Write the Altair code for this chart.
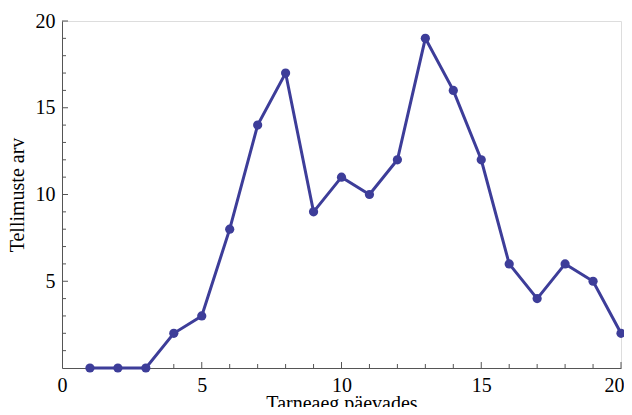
import altair as alt
import pandas as pd

days = list(range(1, 21))
orders = [0, 0, 0, 2, 3, 8, 14, 17, 9, 11, 10, 12, 19, 16, 12, 6, 4, 6, 5, 2]

x_labels = [0, 5, 10, 15, 20]
y_labels = [5, 10, 15, 20]
major_ticks = [5, 10, 15, 20]
minor_ticks = [1, 2, 3, 4, 6, 7, 8, 9, 11, 12, 13, 14, 16, 17, 18, 19]

W, H = 559, 347
COLOR = "#3d3d99"
AX = "#555555"
FONT = "Liberation Serif"

df = pd.DataFrame({"day": days, "orders": orders})
maj = pd.DataFrame({"v": major_ticks})
mnr = pd.DataFrame({"v": minor_ticks})

xs = alt.Scale(domain=[0, 20], nice=False, zero=True)
ys = alt.Scale(domain=[0, 20], nice=False, zero=True)

x_axis = alt.Axis(values=x_labels, title="Tarneaeg päevades", grid=False, ticks=False,
                  domainColor=AX, labelFont=FONT, titleFont=FONT, labelFontSize=20,
                  titleFontSize=20, labelColor="black", titleColor="black",
                  titleFontWeight="normal", labelPadding=7, titlePadding=-2,
                  labelFlush=False, labelOverlap=False,
                  labelAlign={"condition": {"test": "datum.value === 20", "value": "right"},
                              "value": "center"},
                  labelOffset={"condition": {"test": "datum.value === 20", "value": 3},
                               "value": 0})
y_axis = alt.Axis(values=y_labels, title="Tellimuste arv", grid=False, ticks=False,
                  domainColor=AX, labelFont=FONT, titleFont=FONT, labelFontSize=20,
                  titleFontSize=20, labelColor="black", titleColor="black",
                  titleFontWeight="normal", labelPadding=7, titlePadding=8,
                  labelFlush=False, labelOverlap=False)

line = alt.Chart(df).mark_line(color=COLOR, strokeWidth=3).encode(
    x=alt.X("day:Q", scale=xs, axis=x_axis),
    y=alt.Y("orders:Q", scale=ys, axis=y_axis),
)
pts = alt.Chart(df).mark_point(color=COLOR, filled=True, size=85, opacity=1).encode(
    x=alt.X("day:Q", scale=xs),
    y=alt.Y("orders:Q", scale=ys),
)

xt_maj = alt.Chart(maj).mark_rule(color=AX, strokeWidth=1).encode(
    x=alt.X("v:Q", scale=xs), y=alt.value(H), y2=alt.value(H - 6))
xt_min = alt.Chart(mnr).mark_rule(color=AX, strokeWidth=1).encode(
    x=alt.X("v:Q", scale=xs), y=alt.value(H), y2=alt.value(H - 4))
yt_maj = alt.Chart(maj).mark_rule(color=AX, strokeWidth=1).encode(
    y=alt.Y("v:Q", scale=ys), x=alt.value(0), x2=alt.value(6))
yt_min = alt.Chart(mnr).mark_rule(color=AX, strokeWidth=1).encode(
    y=alt.Y("v:Q", scale=ys), x=alt.value(0), x2=alt.value(4))

chart = alt.layer(xt_maj, xt_min, yt_maj, yt_min, line, pts).properties(
    width=W, height=H,
    autosize=alt.AutoSizeParams(type="none"),
    padding={"left": 54, "top": 13, "right": 3, "bottom": 39},
).configure_view(stroke=None).configure(background="white")

chart.save("out.html", embed_options={"renderer": "svg", "actions": False})
